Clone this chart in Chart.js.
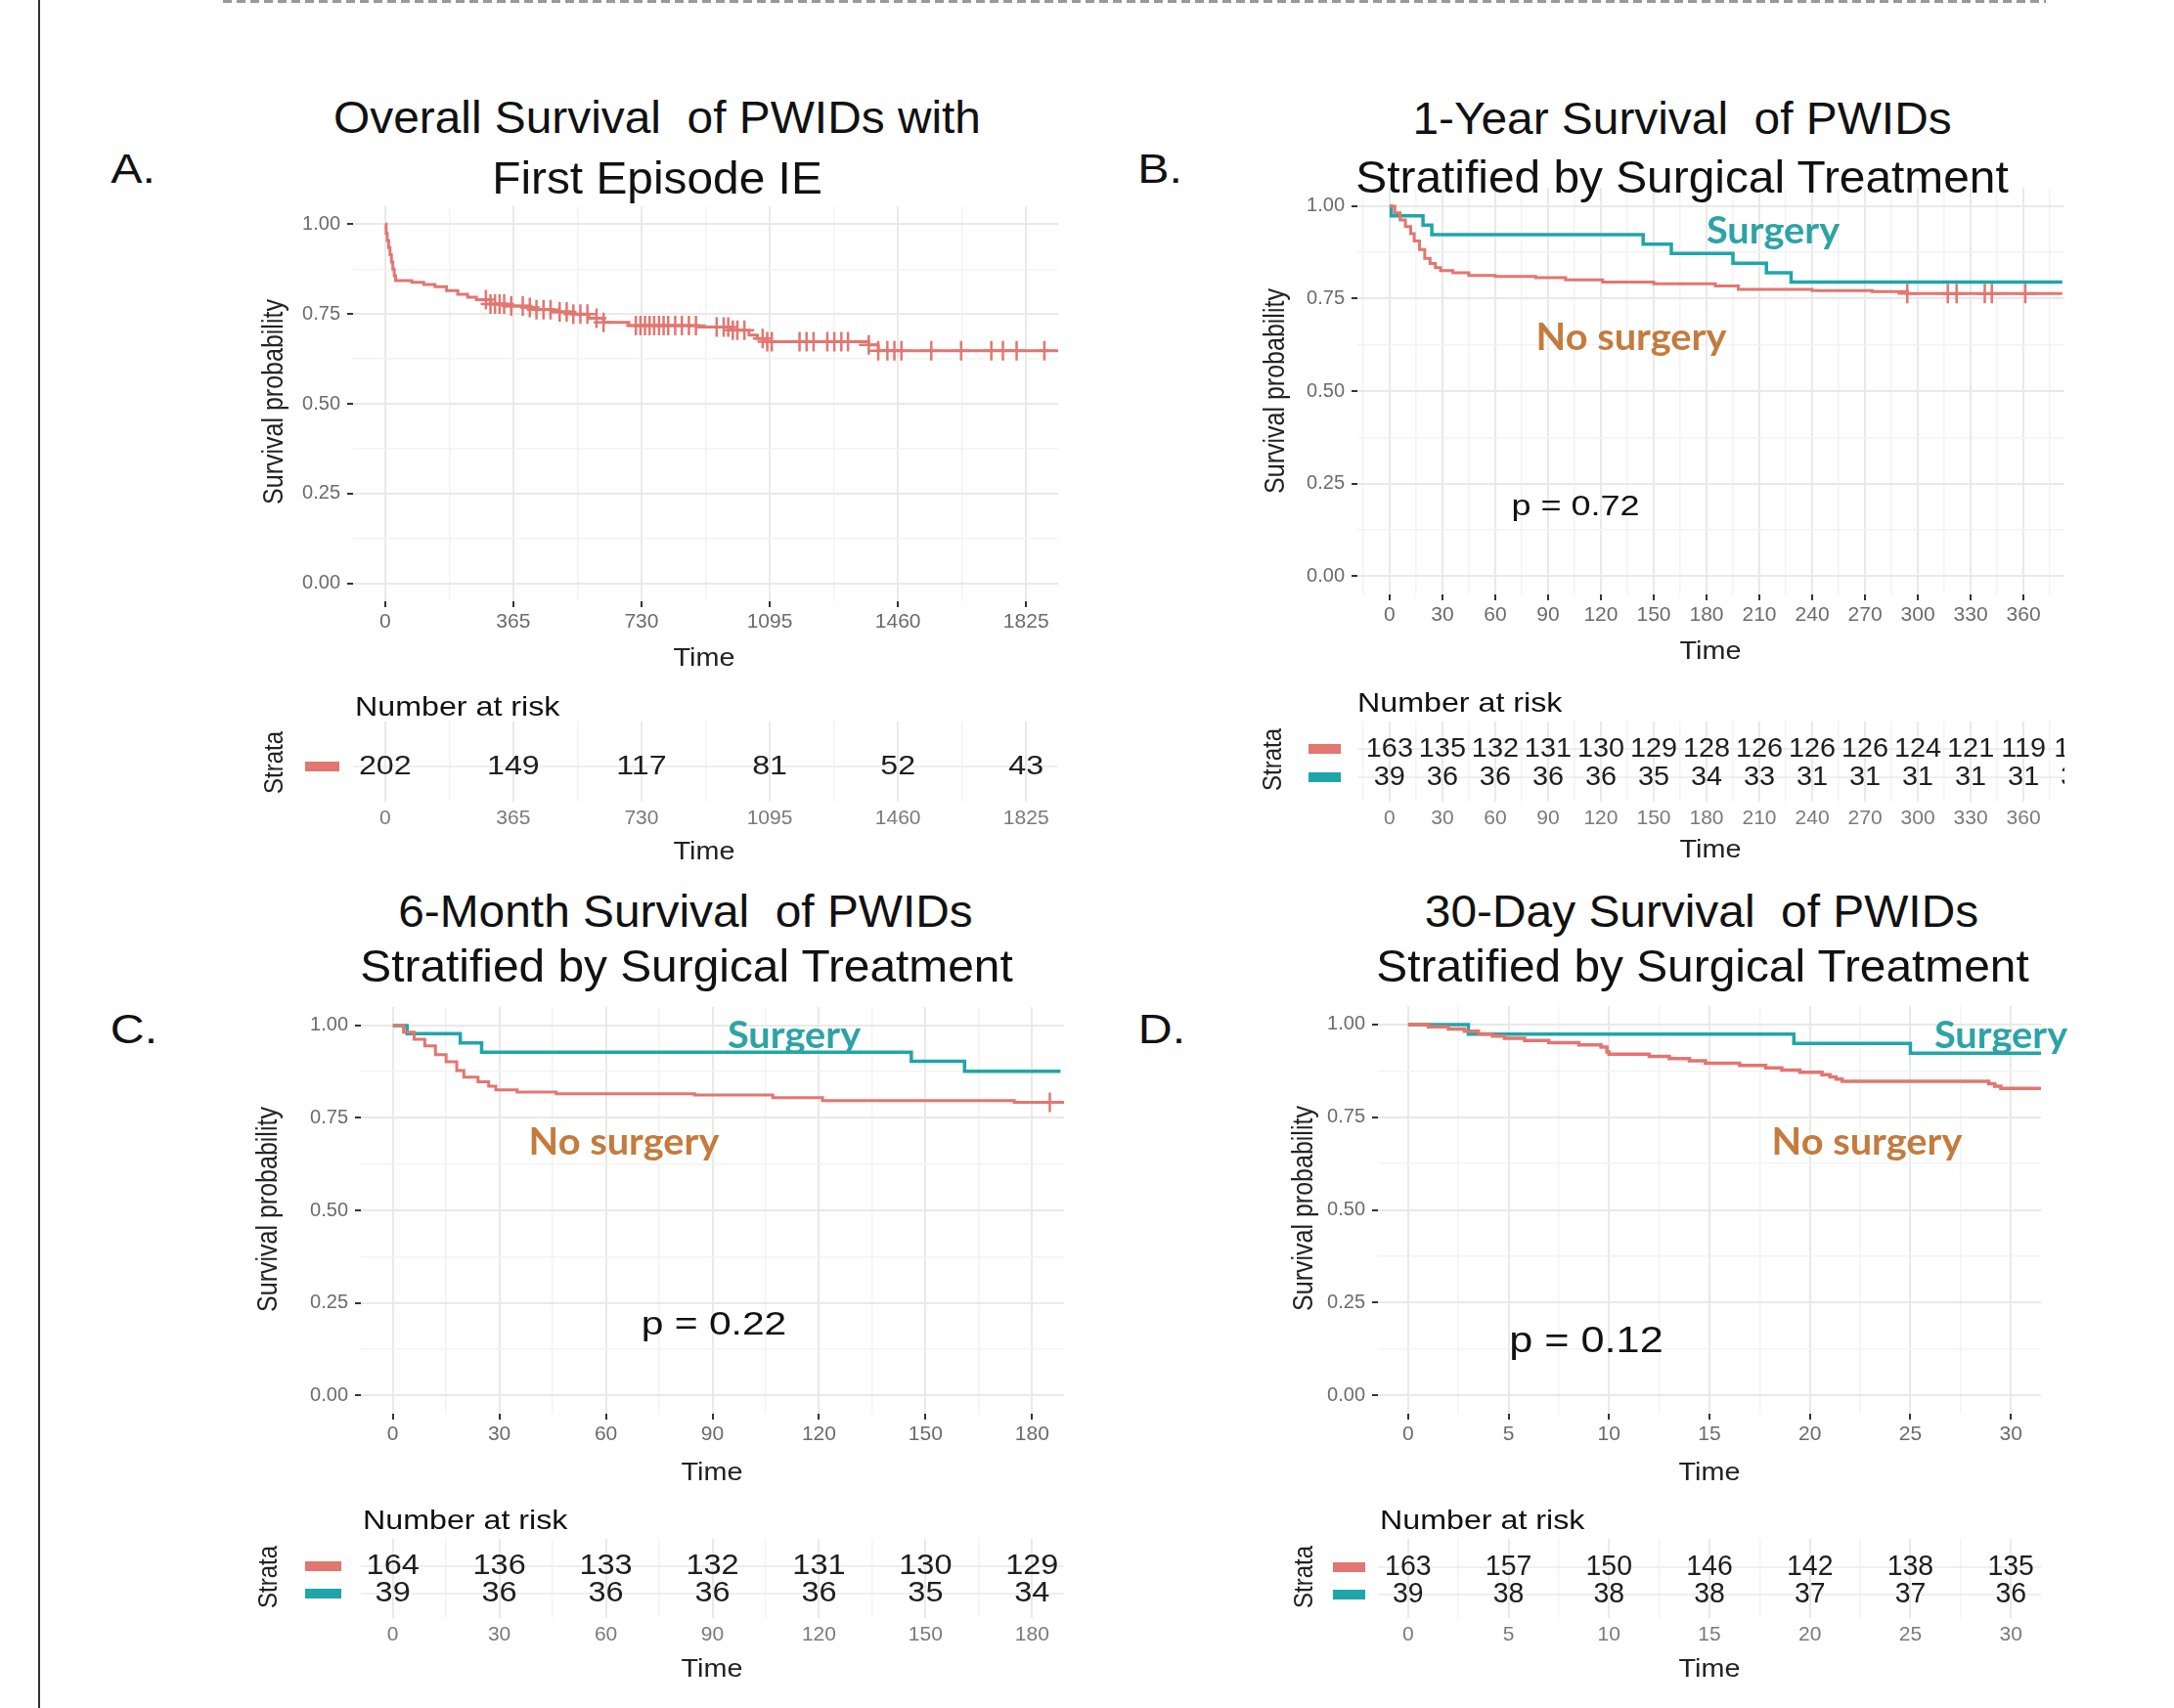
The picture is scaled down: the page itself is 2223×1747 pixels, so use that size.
<!DOCTYPE html>
<html>
<head>
  <meta charset="UTF-8">
  <title>Survival of PWIDs with IE</title>
  <script src="https://cdn.jsdelivr.net/npm/chart.js"></script>
  <style>
    body { margin: 0; width: 2223px; height: 1747px; position: relative; overflow: hidden; background: #fff;
           font-family: "Liberation Sans", Arial, sans-serif; }
    .c { position: absolute; white-space: pre; line-height: 1; color: #111;
         transform: translate(-50%, -50%) scaleX(var(--sx, 1.2)); }
    .l { position: absolute; white-space: pre; line-height: 1; color: #111; transform-origin: left center;
         transform: translate(0, -50%) scaleX(var(--sx, 1.15)); }
    .r { position: absolute; white-space: pre; line-height: 1; color: #222;
         transform: translate(-50%, -50%) rotate(-90deg) scaleY(1.15); }
    .title { font-size: 46px; --sx: 1.04; }
    .letter { font-size: 42px; --sx: 1.15; }
    .ylab { font-size: 25px; }
    .time { font-size: 25px; color: #222; --sx: 1.15; }
    .nar { font-size: 28px; }
    .strata { font-size: 24px; }
    .surg { font-family: Lato, "Open Sans", sans-serif; font-weight: bold; font-size: 39px; color: #2ea3a6; --sx: 1.02; }
    .nosurg { font-family: Lato, "Open Sans", sans-serif; font-weight: bold; font-size: 39px; color: #c47b3d; --sx: 1.02; }
    #frame { position: absolute; left: 39px; top: 0; width: 2px; height: 1747px; background: #333; }
    #cut { position: absolute; left: 228px; top: 0; width: 1864px; height: 3px;
           background: repeating-linear-gradient(90deg, #999 0 9px, #fff 9px 14px); }
  </style>
</head>
<body>
  <div id="frame"></div>
  <div id="cut"></div>

  <script>
    const RED = "#e27670";
    const TEAL = "#1fa6a8";

    const yTicks = [0, 0.25, 0.5, 0.75, 1];
    const yLabels = ["0.00", "0.25", "0.50", "0.75", "1.00"];

    // A. overall survival
    const aTicks = [0, 365, 730, 1095, 1460, 1825];
    const aTime = [0, 3, 6, 10, 14, 18, 22, 26, 30, 76, 110, 142, 175, 207, 235, 260, 300, 345, 405, 431, 480, 536, 580, 622, 694, 891, 983, 1036, 1060, 1088, 1377, 1404, 1916];
    const aSurv = [1.0, 0.975, 0.955, 0.935, 0.915, 0.895, 0.875, 0.857, 0.843, 0.838, 0.832, 0.826, 0.815, 0.805, 0.797, 0.79, 0.778, 0.772, 0.768, 0.762, 0.756, 0.75, 0.738, 0.727, 0.718, 0.714, 0.705, 0.691, 0.682, 0.673, 0.664, 0.648, 0.648];
    const aCens = [287, 300, 313, 326, 339, 359, 392, 412, 431, 451, 471, 497, 517, 536, 556, 576, 602, 622, 714, 727, 740, 753, 766, 780, 793, 806, 826, 845, 865, 885, 944, 964, 977, 990, 1003, 1023, 1075, 1088, 1101, 1180, 1200, 1220, 1259, 1279, 1299, 1318, 1377, 1404, 1430, 1450, 1470, 1555, 1640, 1726, 1759, 1798, 1877];
    const aRisk = [202, 149, 117, 81, 52, 43];

    // B. 1-year
    const bTicks = [0, 30, 60, 90, 120, 150, 180, 210, 240, 270, 300, 330, 360];
    const bSurgTime = [0, 1, 19, 24, 144, 160, 195, 214, 228, 382];
    const bSurgSurv = [1, 0.974, 0.949, 0.923, 0.897, 0.872, 0.846, 0.82, 0.795, 0.795];
    const bNoTime = [0, 3, 6, 9, 12, 14, 17, 20, 23, 26, 29, 36, 45, 60, 83, 100, 121, 150, 185, 198, 240, 274, 294, 382];
    const bNoSurv = [1, 0.982, 0.963, 0.945, 0.926, 0.906, 0.883, 0.859, 0.845, 0.834, 0.826, 0.82, 0.813, 0.81, 0.807, 0.801, 0.795, 0.79, 0.784, 0.775, 0.772, 0.769, 0.764, 0.764];
    const bCens = [294, 317, 322, 338, 342, 361];
    const bRiskTime = [0, 30, 60, 90, 120, 150, 180, 210, 240, 270, 300, 330, 360, 390];
    const bRiskNo = [163, 135, 132, 131, 130, 129, 128, 126, 126, 126, 124, 121, 119, 118];
    const bRiskSurg = [39, 36, 36, 36, 36, 35, 34, 33, 31, 31, 31, 31, 31, 31];

    // C. 6-month
    const cTicks = [0, 30, 60, 90, 120, 150, 180];
    const cSurgTime = [0, 4, 19, 25, 146, 161, 188];
    const cSurgSurv = [1, 0.978, 0.953, 0.928, 0.903, 0.876, 0.876];
    const cNoTime = [0, 3, 6, 9, 12, 15, 18, 20, 24, 27, 29, 35, 46, 85, 107, 121, 175, 189];
    const cNoSurv = [1, 0.982, 0.963, 0.945, 0.921, 0.902, 0.878, 0.86, 0.848, 0.836, 0.826, 0.82, 0.815, 0.812, 0.805, 0.797, 0.792, 0.792];
    const cCens = [185];
    const cRiskNo = [164, 136, 133, 132, 131, 130, 129];
    const cRiskSurg = [39, 36, 36, 36, 36, 35, 34];

    // D. 30-day
    const dTicks = [0, 5, 10, 15, 20, 25, 30];
    const dSurgTime = [0, 3, 19.2, 25, 31.5];
    const dSurgSurv = [1, 0.974, 0.949, 0.923, 0.923];
    const dNoTime = [0, 1, 2, 2.8, 3.5, 4.2, 4.8, 5.8, 7, 8.5, 9.6, 9.9, 10, 12, 13, 14, 14.8, 16.5, 17.8, 18.6, 19.5, 20.6, 21, 21.3, 21.6, 28.9, 29.2, 29.5, 31.5];
    const dNoSurv = [1, 0.994, 0.988, 0.982, 0.975, 0.969, 0.963, 0.957, 0.951, 0.945, 0.939, 0.926, 0.92, 0.914, 0.908, 0.902, 0.896, 0.89, 0.883, 0.877, 0.871, 0.865, 0.859, 0.853, 0.847, 0.84, 0.834, 0.828, 0.828];
    const dRiskNo = [163, 157, 150, 146, 142, 138, 135];
    const dRiskSurg = [39, 38, 38, 38, 37, 37, 36];

    Chart.defaults.font.family = '"Liberation Sans", Arial, sans-serif';

    function pts(t, s) { return t.map((v, i) => ({ x: v, y: s[i] })); }
    function stepAt(t, s, x) {
      let v = s[0];
      for (let i = 0; i < t.length; i++) if (t[i] <= x) v = s[i];
      return v;
    }
    // major ticks plus ggplot-like minor midpoints inside [min, max]
    function gridTicks(major, min, max) {
      const step = major[1] - major[0];
      const out = [];
      for (let v = major[0] - step; v <= major[major.length - 1] + step + 1e-9; v += step / 2) {
        if (v < min - 1e-9 || v > max + 1e-9) continue;
        const isMajor = major.some(m => Math.abs(m - v) < 1e-9);
        out.push({ value: v, minor: !isMajor });
      }
      return out;
    }

    const gridColor = c => (c.tick && c.tick.minor ? "#f3f3f3" : "#e9e9e9");
    const gridWidth = c => (c.tick && c.tick.minor ? 1.5 : 2);

    function makeCanvas(box, m) {
      const c = document.createElement("canvas");
      const w = box.r - box.l + m.l + m.r, h = box.b - box.t + m.t + m.b;
      c.width = w; c.height = h;
      c.style.cssText = `position:absolute;left:${box.l - m.l}px;top:${box.t - m.t}px;width:${w}px;height:${h}px`;
      document.body.appendChild(c);
      return c;
    }

    const survM = { l: 95, r: 30, t: 30, b: 45 };

    function survChart(box, xMin, xMax, xTicks, curves, cens) {
      const canvas = makeCanvas(box, survM);
      const datasets = curves.map(cv => ({
        data: pts(cv.t, cv.s), borderColor: cv.color, borderWidth: cv.w || 3,
        stepped: true, pointRadius: 0, fill: false
      }));
      cens.forEach(ce => datasets.push({
        data: ce.t.map(x => ({ x: x, y: stepAt(ce.ct, ce.cs, x) })),
        showLine: false, pointStyle: "cross", pointRadius: 10,
        pointBorderWidth: 2.5, pointBorderColor: ce.color, borderColor: ce.color
      }));
      return new Chart(canvas, {
        type: "line",
        data: { datasets },
        options: {
          responsive: false, animation: false, devicePixelRatio: 1,
          layout: { padding: { left: 0, top: survM.t, right: survM.r, bottom: 0 } },
          plugins: { legend: { display: false }, tooltip: { enabled: false } },
          scales: {
            x: {
              type: "linear", min: xMin, max: xMax,
              afterBuildTicks: s => { s.ticks = gridTicks(xTicks, xMin, xMax); },
              afterFit: s => { s.height = survM.b; },
              ticks: {
                autoSkip: false, maxRotation: 0, padding: 3, color: "#6b6b6b", font: { size: 21 },
                callback: (v, i, ts) => (ts[i].minor ? "" : String(v))
              },
              grid: { color: gridColor, lineWidth: gridWidth, tickLength: 6, tickWidth: 2,
                      tickColor: c => (c.tick && c.tick.minor ? "rgba(0,0,0,0)" : "#333") },
              border: { display: false }
            },
            y: {
              min: -0.05, max: 1.05,
              afterBuildTicks: s => { s.ticks = gridTicks(yTicks, -0.05, 1.05); },
              afterFit: s => { s.width = survM.l; },
              ticks: {
                autoSkip: false, padding: 7, color: "#6b6b6b", font: { size: 20 },
                callback: (v, i, ts) => (ts[i].minor ? "" : yLabels[yTicks.indexOf(v)])
              },
              grid: { color: gridColor, lineWidth: gridWidth, tickLength: 6, tickWidth: 2,
                      tickColor: c => (c.tick && c.tick.minor ? "rgba(0,0,0,0)" : "#333") },
              border: { display: false }
            }
          }
        }
      });
    }

    // numbers at risk drawn at the library's own point positions
    const riskText = {
      id: "riskText",
      afterDatasetsDraw(chart, args, opts) {
        const ctx = chart.ctx, a = chart.chartArea;
        ctx.save();
        ctx.beginPath();
        ctx.rect(a.left, a.top - 40, a.right - a.left, a.bottom - a.top + 80);
        ctx.clip();
        ctx.font = `${opts.size}px "Liberation Sans", Arial, sans-serif`;
        ctx.fillStyle = "#1e1e1e";
        ctx.textAlign = "center";
        ctx.textBaseline = "middle";
        chart.data.datasets.forEach((ds, i) => {
          chart.getDatasetMeta(i).data.forEach((el, j) => {
            ctx.save();
            ctx.translate(el.x, el.y);
            ctx.scale(opts.sx, 1);
            ctx.fillText(String(ds.data[j].n), 0, 0);
            ctx.restore();
          });
        });
        ctx.restore();
        ctx.save();
        chart.data.datasets.forEach((ds, i) => {
          const el = chart.getDatasetMeta(i).data[0];
          ctx.fillStyle = ds.borderColor;
          ctx.fillRect(a.left - opts.barOff, el.y - 5, opts.barW, 10);
        });
        ctx.restore();
      }
    };

    const riskM = { l: 95, r: 30, t: 40, b: 40 };

    function riskChart(box, xMin, xMax, xTicks, yMin, yMax, rows, style) {
      const canvas = makeCanvas(box, riskM);
      const datasets = rows.map(rw => ({
        data: rw.t.map((x, i) => ({ x: x, y: rw.row, n: rw.n[i] })),
        borderColor: rw.color, showLine: false, pointRadius: 0
      }));
      const rowVals = rows.map(rw => rw.row);
      return new Chart(canvas, {
        type: "line",
        data: { datasets },
        plugins: [riskText],
        options: {
          responsive: false, animation: false, devicePixelRatio: 1,
          layout: { padding: { left: 0, top: riskM.t, right: riskM.r, bottom: 0 } },
          plugins: { legend: { display: false }, tooltip: { enabled: false }, riskText: style },
          scales: {
            x: {
              type: "linear", min: xMin, max: xMax,
              afterBuildTicks: s => { s.ticks = gridTicks(xTicks, xMin, xMax); },
              afterFit: s => { s.height = riskM.b; },
              ticks: {
                autoSkip: false, maxRotation: 0, padding: 5, color: "#7a7a7a", font: { size: 21 },
                callback: (v, i, ts) => (ts[i].minor ? "" : String(v))
              },
              grid: { color: gridColor, lineWidth: gridWidth, drawTicks: false },
              border: { display: false }
            },
            y: {
              min: yMin, max: yMax,
              afterBuildTicks: s => { s.ticks = rowVals.map(v => ({ value: v })); },
              afterFit: s => { s.width = riskM.l; },
              ticks: { display: false },
              grid: { color: "#efefef", lineWidth: 2, drawTicks: false },
              border: { display: false }
            }
          }
        }
      });
    }

    // panel A
    survChart({ l: 361, t: 211, r: 1082, b: 615 }, -91.25, 1916.25, aTicks,
      [{ t: aTime, s: aSurv, color: RED, w: 3 }],
      [{ t: aCens, ct: aTime, cs: aSurv, color: RED }]);
    riskChart({ l: 361, t: 738, r: 1082, b: 820 }, -91.25, 1916.25, aTicks, -0.241, 2.586,
      [{ row: 1, t: aTicks, n: aRisk, color: RED }],
      { size: 28, sx: 1.15, barOff: 49, barW: 35 });

    // panel B
    survChart({ l: 1388, t: 192, r: 2111, b: 608 }, -18.25, 383.25, bTicks,
      [{ t: bNoTime, s: bNoSurv, color: RED, w: 3 }, { t: bSurgTime, s: bSurgSurv, color: TEAL, w: 3.5 }],
      [{ t: bCens, ct: bNoTime, cs: bNoSurv, color: RED }]);
    riskChart({ l: 1388, t: 738, r: 2111, b: 820 }, -18.25, 383.25, bTicks, 0.138, 2.966,
      [{ row: 2, t: bRiskTime, n: bRiskNo, color: RED }, { row: 1, t: bRiskTime, n: bRiskSurg, color: TEAL }],
      { size: 28, sx: 1.03, barOff: 50, barW: 33 });

    // panel C
    survChart({ l: 369, t: 1030, r: 1088, b: 1446 }, -9, 189, cTicks,
      [{ t: cNoTime, s: cNoSurv, color: RED, w: 3 }, { t: cSurgTime, s: cSurgSurv, color: TEAL, w: 3.5 }],
      [{ t: cCens, ct: cNoTime, cs: cNoSurv, color: RED }]);
    riskChart({ l: 369, t: 1574, r: 1088, b: 1655 }, -9, 189, cTicks, 0.107, 3.0,
      [{ row: 2, t: cTicks, n: cRiskNo, color: RED }, { row: 1, t: cTicks, n: cRiskSurg, color: TEAL }],
      { size: 29, sx: 1.12, barOff: 57, barW: 37 });

    // panel D
    survChart({ l: 1409, t: 1029, r: 2087, b: 1446 }, -1.5, 31.5, dTicks,
      [{ t: dNoTime, s: dNoSurv, color: RED, w: 3.5 }, { t: dSurgTime, s: dSurgSurv, color: TEAL, w: 3.5 }],
      []);
    riskChart({ l: 1409, t: 1574, r: 2087, b: 1655 }, -1.5, 31.5, dTicks, 0.143, 3.036,
      [{ row: 2, t: dTicks, n: dRiskNo, color: RED }, { row: 1, t: dTicks, n: dRiskSurg, color: TEAL }],
      { size: 29, sx: 0.98, barOff: 46, barW: 33 });
  </script>

  <!-- titles -->
  <div class="c title" style="left:672px;top:120px">Overall Survival  of PWIDs with</div>
  <div class="c title" style="left:672px;top:182px">First Episode IE</div>
  <div class="c title" style="left:1720px;top:121px">1-Year Survival  of PWIDs</div>
  <div class="c title" style="left:1720px;top:181px">Stratified by Surgical Treatment</div>
  <div class="c title" style="left:701px;top:932px">6-Month Survival  of PWIDs</div>
  <div class="c title" style="left:702px;top:988px">Stratified by Surgical Treatment</div>
  <div class="c title" style="left:1740px;top:932px">30-Day Survival  of PWIDs</div>
  <div class="c title" style="left:1741px;top:988px">Stratified by Surgical Treatment</div>

  <div class="c letter" style="left:136px;top:173px">A.</div>
  <div class="c letter" style="left:1186px;top:173px">B.</div>
  <div class="c letter" style="left:137px;top:1053px">C.</div>
  <div class="c letter" style="left:1188px;top:1053px">D.</div>

  <!-- axis titles -->
  <div class="r ylab" style="left:279px;top:411px">Survival probability</div>
  <div class="r ylab" style="left:1303px;top:400px">Survival probability</div>
  <div class="r ylab" style="left:273px;top:1237px">Survival probability</div>
  <div class="r ylab" style="left:1332px;top:1236px">Survival probability</div>

  <div class="c time" style="left:720px;top:672px">Time</div>
  <div class="c time" style="left:1749px;top:665px">Time</div>
  <div class="c time" style="left:728px;top:1505px">Time</div>
  <div class="c time" style="left:1748px;top:1505px">Time</div>
  <div class="c time" style="left:720px;top:870px">Time</div>
  <div class="c time" style="left:1749px;top:868px">Time</div>
  <div class="c time" style="left:728px;top:1706px">Time</div>
  <div class="c time" style="left:1748px;top:1706px">Time</div>

  <!-- risk table headers -->
  <div class="l nar" style="left:363px;top:723px">Number at risk</div>
  <div class="l nar" style="left:1388px;top:719px">Number at risk</div>
  <div class="l nar" style="left:371px;top:1555px">Number at risk</div>
  <div class="l nar" style="left:1411px;top:1555px">Number at risk</div>
  <div class="r strata" style="left:280px;top:780px">Strata</div>
  <div class="r strata" style="left:1301px;top:777px">Strata</div>
  <div class="r strata" style="left:274px;top:1613px">Strata</div>
  <div class="r strata" style="left:1333px;top:1613px">Strata</div>

  <!-- annotations -->
  <div class="c surg" style="left:1813px;top:234px">Surgery</div>
  <div class="c nosurg" style="left:1668px;top:343px">No surgery</div>
  <div class="c surg" style="left:812px;top:1057px">Surgery</div>
  <div class="c nosurg" style="left:638px;top:1166px">No surgery</div>
  <div class="c surg" style="left:2046px;top:1057px">Surgery</div>
  <div class="c nosurg" style="left:1909px;top:1166px">No surgery</div>

  <div class="c" style="left:1611px;top:517px;font-size:30px">p = 0.72</div>
  <div class="c" style="left:730px;top:1353px;font-size:34px">p = 0.22</div>
  <div class="c" style="left:1622px;top:1371px;font-size:36px">p = 0.12</div>
</body>
</html>
